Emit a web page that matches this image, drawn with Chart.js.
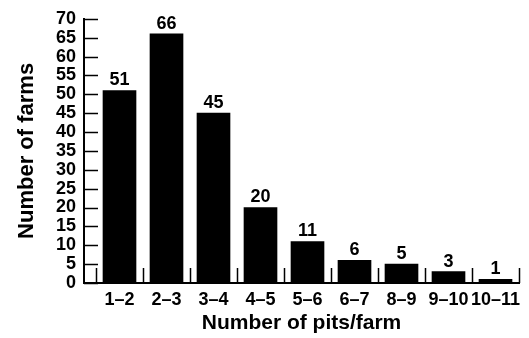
<!DOCTYPE html>
<html>
<head>
<meta charset="utf-8">
<script src="https://cdn.jsdelivr.net/npm/chart.js@4/dist/chart.umd.min.js"></script>
<style>
  html, body { margin: 0; padding: 0; background: #fff; }
  #wrap { width: 529px; height: 338px; }
</style>
</head>
<body>
<div id="wrap"><canvas id="pitsChart"></canvas></div>
<script>
// bins of pits per farm and how many farms fall in each
const binLabels = ["1–2", "2–3", "3–4", "4–5", "5–6", "6–7", "8–9", "9–10", "10–11"];
const farmCounts = [51, 66, 45, 20, 11, 6, 5, 3, 1];
const yTickValues = [0, 5, 10, 15, 20, 25, 30, 35, 40, 45, 50, 55, 60, 65, 70];
const xTitle = "Number of pits/farm";
const yTitle = "Number of farms";

const FONT = "'Liberation Sans', Arial, Helvetica, sans-serif";

// inward tick marks + value labels on top of bars
const tickAndLabelPlugin = {
  id: "tickAndLabel",
  afterDraw(chart) {
    const ctx = chart.ctx;
    const xs = chart.scales.x;
    const ys = chart.scales.y;
    ctx.save();
    ctx.strokeStyle = "#000";
    ctx.lineWidth = 1.5;
    ctx.beginPath();
    yTickValues.forEach(v => {
      const py = Math.round(ys.getPixelForValue(v)) + 0.5;
      ctx.moveTo(xs.left, py);
      ctx.lineTo(xs.left + 14, py);
    });
    for (let i = 0; i <= binLabels.length; i++) {
      const px = Math.round(xs.getPixelForValue(i - 0.5)) + 0.5;
      ctx.moveTo(px, ys.bottom);
      ctx.lineTo(px, ys.bottom - 15);
    }
    ctx.stroke();

    ctx.fillStyle = "#000";
    ctx.font = "bold 18px " + FONT;
    ctx.textAlign = "center";
    ctx.textBaseline = "bottom";
    chart.getDatasetMeta(0).data.forEach((bar, i) => {
      ctx.fillText(String(farmCounts[i]), bar.x, bar.y - 1);
    });
    ctx.restore();
  }
};

new Chart(document.getElementById("pitsChart"), {
  type: "bar",
  data: {
    datasets: [{
      data: farmCounts.map((v, i) => ({ x: i, y: v })),
      backgroundColor: "#000",
      borderWidth: 0,
      barThickness: 33
    }]
  },
  options: {
    responsive: true,
    maintainAspectRatio: false,
    animation: false,
    events: [],
    layout: { padding: { top: 16, right: 10, left: 0, bottom: 0 } },
    plugins: {
      legend: { display: false },
      tooltip: { enabled: false }
    },
    scales: {
      x: {
        type: "linear",
        offset: false,
        min: -0.5 - 12 / 47,
        max: binLabels.length - 0.5,
        afterBuildTicks: scale => {
          scale.ticks = binLabels.map((_, i) => ({ value: i }));
        },
        afterFit: scale => { scale.height = 55; },
        grid: { display: false, drawTicks: false, offset: false },
        border: { display: true, color: "#000", width: 2 },
        ticks: {
          autoSkip: false,
          maxRotation: 0,
          padding: 6,
          color: "#000",
          font: { family: FONT, size: 18, weight: "bold" },
          callback: v => binLabels[v]
        },
        title: {
          display: true,
          text: xTitle,
          color: "#000",
          padding: { top: 4, bottom: 2 },
          font: { family: FONT, size: 21, weight: "bold" }
        }
      },
      y: {
        min: 0,
        max: 70,
        afterBuildTicks: scale => {
          scale.ticks = yTickValues.map(v => ({ value: v }));
        },
        afterFit: scale => { scale.width = 84; },
        grid: { display: false, drawTicks: false },
        border: { display: true, color: "#000", width: 2 },
        ticks: {
          autoSkip: false,
          padding: 8,
          color: "#000",
          font: { family: FONT, size: 18, weight: "bold" }
        },
        title: {
          display: true,
          text: yTitle,
          color: "#000",
          padding: { top: 14, bottom: 0 },
          font: { family: FONT, size: 22, weight: "bold" }
        }
      }
    }
  },
  plugins: [tickAndLabelPlugin]
});
</script>
</body>
</html>
